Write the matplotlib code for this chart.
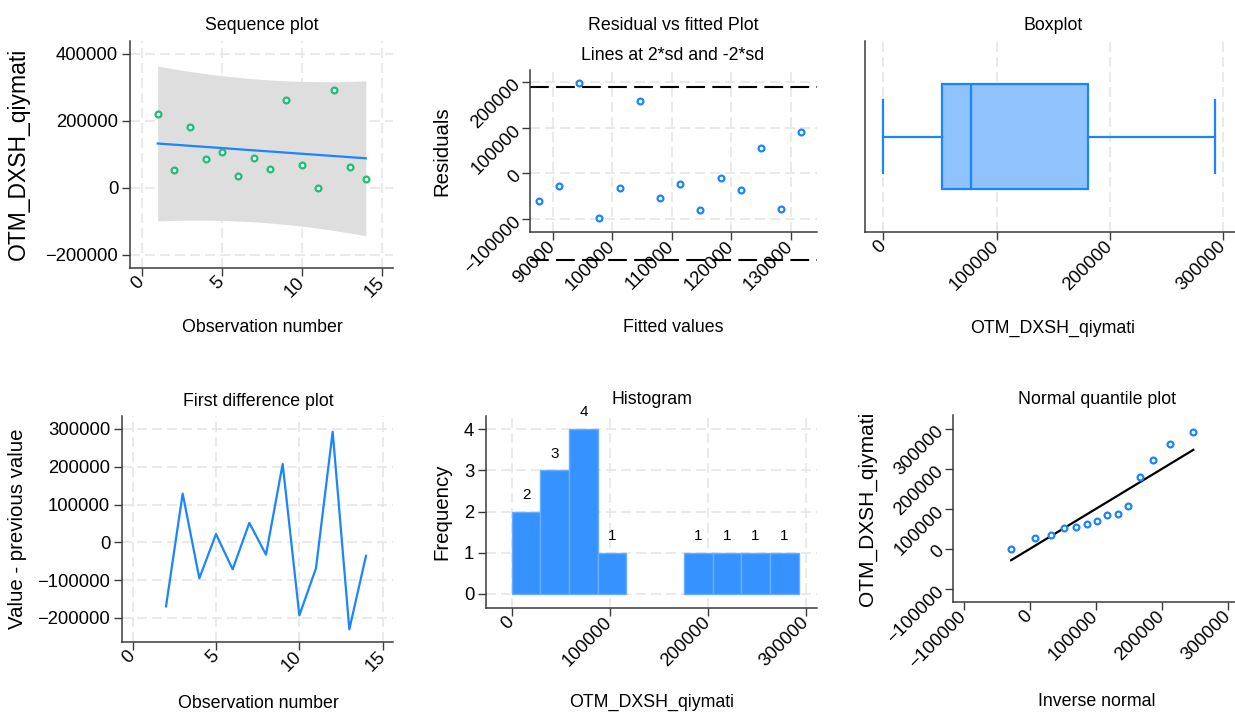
import numpy as np
import matplotlib
matplotlib.use("Agg")
import matplotlib.pyplot as plt
from statistics import NormalDist

# data: OTM_DXSH_qiymati by observation number
obs = np.arange(1, 15)
value = np.array([221300, 51600, 180600, 85400, 107200, 35700, 87300,
                  54600, 262000, 68500, 0, 292800, 62500, 26800], dtype=float)

seq_xticks = [0, 5, 10, 15]
seq_yticks = [-200000, 0, 200000, 400000]
res_xticks = [90000, 100000, 110000, 120000, 130000]
res_yticks = [-100000, 0, 100000, 200000]
box_xticks = [0, 100000, 200000, 300000]
diff_yticks = [-200000, -100000, 0, 100000, 200000, 300000]
hist_yticks = [0, 1, 2, 3, 4]
qn_ticks = [-100000, 0, 100000, 200000, 300000]
T_975_DF12 = 2.1788  # t critical value, 95%, 12 df

GREEN = "#1bbf7a"
BLUE = "#1a85ff"
GRID = "#e6e6e6"
SPINE = "#3a3a3a"

plt.rcParams["font.family"] = ["Liberation Sans", "DejaVu Sans"]

W, H = 1235, 713
fig = plt.figure(figsize=(W / 100, H / 100), dpi=100)


def panel(left, top, right, bottom):
    ax = fig.add_axes([left / W, 1 - bottom / H, (right - left) / W, (bottom - top) / H])
    for s in ["top", "right"]:
        ax.spines[s].set_visible(False)
    for s in ["left", "bottom"]:
        ax.spines[s].set_color(SPINE)
        ax.spines[s].set_linewidth(1.1)
    ax.tick_params(direction="out", length=5.5, width=1, color=SPINE, labelsize=13.3, pad=3)
    ax.grid(True, color=GRID, linestyle=(0, (6, 3)), linewidth=1.2)
    ax.set_axisbelow(True)
    return ax


def rot_x(ax):
    plt.setp(ax.get_xticklabels(), rotation=45, ha="right", va="center", rotation_mode="anchor")


def rot_y(ax):
    plt.setp(ax.get_yticklabels(), rotation=45, ha="right", va="center", rotation_mode="anchor")


def labels(ax, xlabel, xpos, ylabel=None, ypos=None, xsize=12.8, ysize=14.7):
    ax.set_xlabel(xlabel, fontsize=xsize)
    ax.xaxis.set_label_coords(xpos[0] / W, 1 - xpos[1] / H, transform=fig.transFigure)
    ax.xaxis.label.set_va("center")
    if ylabel:
        ax.set_ylabel(ylabel, fontsize=ysize)
        ax.yaxis.set_label_coords(ypos[0] / W, 1 - ypos[1] / H, transform=fig.transFigure)
        ax.yaxis.label.set_va("center")
        ax.yaxis.label.set_ha("center")


def title(text, x, y, size=12.8):
    fig.text(x / W, 1 - y / H, text, ha="center", va="center", fontsize=size)


# linear fit of value on observation number
n = len(value)
xbar = obs.mean()
sxx = ((obs - xbar) ** 2).sum()
b1 = ((obs - xbar) * (value - value.mean())).sum() / sxx
b0 = value.mean() - b1 * xbar
fitted = b0 + b1 * obs
resid = value - fitted
rmse = np.sqrt((resid ** 2).sum() / (n - 2))

# 1. Sequence plot
ax1 = panel(130, 41, 393, 268)
xs = np.linspace(obs.min(), obs.max(), 100)
half = T_975_DF12 * rmse * np.sqrt(1 + 1 / n + (xs - xbar) ** 2 / sxx)
ax1.fill_between(xs, b0 + b1 * xs - half, b0 + b1 * xs + half, color="#dedede", lw=0)
ax1.plot(xs, b0 + b1 * xs, color=BLUE, lw=1.6)
ax1.plot(obs, value, "o", ms=4.2, mfc="white", mec=GREEN, mew=1.6, ls="none")
ax1.set_xlim(-0.73, 15.7)
ax1.set_ylim(-239700, 437700)
ax1.set_xticks(seq_xticks)
ax1.set_yticks(seq_yticks)
rot_x(ax1)
labels(ax1, "Observation number", (262, 328), "OTM_DXSH_qiymati", (18, 154), ysize=16.5)
title("Sequence plot", 262, 25)

# 2. Residual vs fitted
ax2 = panel(530, 70, 817, 232)
ax2.plot(fitted, resid, "o", ms=4.2, mfc="white", mec=BLUE, mew=1.6, ls="none")
for lvl in (2 * rmse, -2 * rmse):
    ax2.axhline(lvl, color="black", lw=1.5, ls=(0, (9, 3.5)), clip_on=False)
ax2.set_xlim(86200, 134400)
ax2.set_ylim(-128000, 226000)
ax2.set_xticks(res_xticks)
ax2.set_yticks(res_yticks)
rot_x(ax2)
rot_y(ax2)
labels(ax2, "Fitted values", (673, 328), "Residuals", (442, 151))
title("Residual vs fitted Plot", 673, 25)
title("Lines at 2*sd and -2*sd", 673, 55)

# 3. Boxplot
ax3 = panel(865, 41, 1235, 232)
q1, med, q3 = np.percentile(value, [25, 50, 75], method="averaged_inverted_cdf")
iqr = q3 - q1
stats = [{
    "med": med, "q1": q1, "q3": q3,
    "whislo": value[value >= q1 - 1.5 * iqr].min(),
    "whishi": value[value <= q3 + 1.5 * iqr].max(),
    "fliers": [],
}]
ax3.bxp(stats, positions=[0.5], widths=0.55, capwidths=0.38, orientation="horizontal",
        patch_artist=True, manage_ticks=False,
        boxprops=dict(facecolor="#90c3fc", edgecolor=BLUE, linewidth=1.6),
        medianprops=dict(color=BLUE, linewidth=1.6),
        whiskerprops=dict(color=BLUE, linewidth=1.6),
        capprops=dict(color=BLUE, linewidth=1.6))
ax3.set_xlim(-16200, 310300)
ax3.set_ylim(0, 1)
ax3.set_xticks(box_xticks)
ax3.set_yticks([])
ax3.grid(False)
ax3.grid(True, axis="x", color=GRID, linestyle=(0, (6, 3)), linewidth=1.2)
rot_x(ax3)
labels(ax3, "OTM_DXSH_qiymati", (1053, 328))
title("Boxplot", 1053, 25)

# 4. First difference plot
ax4 = panel(122, 416, 393, 642)
ax4.plot(obs[1:], np.diff(value), color=BLUE, lw=1.6)
ax4.set_xlim(-0.64, 15.62)
ax4.set_ylim(-263900, 334400)
ax4.set_xticks(seq_xticks)
ax4.set_yticks(diff_yticks)
rot_x(ax4)
labels(ax4, "Observation number", (258, 703), "Value - previous value", (18, 529))
title("First difference plot", 258, 401)

# 5. Histogram
ax5 = panel(486, 416, 817, 608)
counts, edges, bars = ax5.hist(value, bins=10, range=(value.min(), value.max()),
                               color="#3592ff", edgecolor="#6aaeff", linewidth=1)
for c, patch in zip(counts, bars):
    if c == 0:
        patch.set_visible(False)
ax5.bar_label(bars, labels=[str(int(c)) if c > 0 else "" for c in counts],
              padding=7, fontsize=11)
ax5.set_xlim(-26200, 311500)
ax5.set_ylim(-0.34, 4.32)
ax5.set_xticks(box_xticks)
ax5.set_yticks(hist_yticks)
rot_x(ax5)
labels(ax5, "OTM_DXSH_qiymati", (652, 702), "Frequency", (442, 512))
title("Histogram", 652, 400)

# 6. Normal quantile plot
ax6 = panel(953, 415, 1235, 602)
dist = NormalDist(value.mean(), value.std(ddof=1))
qx = np.array([dist.inv_cdf(i / (n + 1)) for i in range(1, n + 1)])
ax6.plot([qx[0], qx[-1]], [qx[0], qx[-1]], color="black", lw=1.6)
ax6.plot(qx, np.sort(value), "o", ms=4.2, mfc="white", mec=BLUE, mew=1.6, ls="none")
ax6.set_xlim(-116500, 311000)
ax6.set_ylim(-133000, 335000)
ax6.set_xticks(qn_ticks)
ax6.set_yticks(qn_ticks)
ax6.grid(False)
rot_x(ax6)
rot_y(ax6)
labels(ax6, "Inverse normal", (1097, 702), "OTM_DXSH_qiymati", (867, 509), ysize=15)
title("Normal quantile plot", 1097, 400)

fig.savefig("out.png", dpi=100)
